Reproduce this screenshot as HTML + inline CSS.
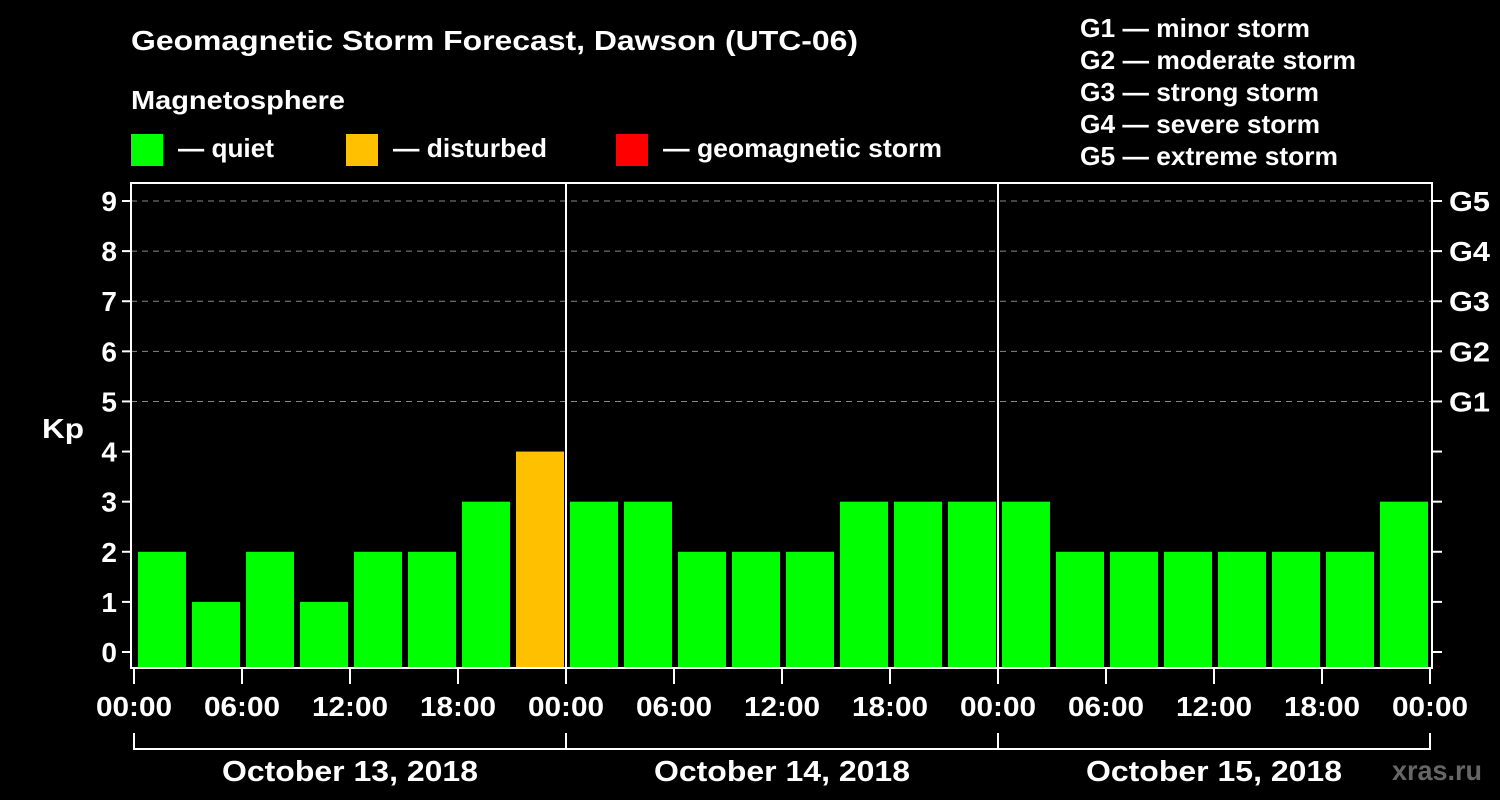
<!DOCTYPE html>
<html><head><meta charset="utf-8"><style>
html,body{margin:0;padding:0;background:#000;}
svg{display:block;font-family:"Liberation Sans",Arial,sans-serif;font-weight:bold;}
</style></head><body>
<svg id="c" width="1500" height="800">
<rect width="1500" height="800" fill="#000"/>
<text x="131" y="50" fill="#fff" font-size="28" textLength="727" lengthAdjust="spacingAndGlyphs">Geomagnetic Storm Forecast, Dawson (UTC-06)</text>
<text x="131" y="109" fill="#fff" font-size="26" textLength="214" lengthAdjust="spacingAndGlyphs">Magnetosphere</text>
<g><rect x="131" y="134" width="32" height="32" fill="#00ff00"/><text x="178" y="157" fill="#fff" font-size="26" textLength="96" lengthAdjust="spacingAndGlyphs">— quiet</text></g>
<g><rect x="346" y="134" width="32" height="32" fill="#ffc000"/><text x="393" y="157" fill="#fff" font-size="26" textLength="154" lengthAdjust="spacingAndGlyphs">— disturbed</text></g>
<g><rect x="616" y="134" width="32" height="32" fill="#ff0000"/><text x="663" y="157" fill="#fff" font-size="26" textLength="279" lengthAdjust="spacingAndGlyphs">— geomagnetic storm</text></g>
<g fill="#fff" font-size="26">
<text x="1080" y="37" textLength="230" lengthAdjust="spacingAndGlyphs">G1 — minor storm</text>
<text x="1080" y="69" textLength="276" lengthAdjust="spacingAndGlyphs">G2 — moderate storm</text>
<text x="1080" y="101" textLength="239" lengthAdjust="spacingAndGlyphs">G3 — strong storm</text>
<text x="1080" y="133" textLength="240" lengthAdjust="spacingAndGlyphs">G4 — severe storm</text>
<text x="1080" y="165" textLength="258" lengthAdjust="spacingAndGlyphs">G5 — extreme storm</text>
</g>
<text x="42" y="438" fill="#fff" font-size="28" textLength="42" lengthAdjust="spacingAndGlyphs">Kp</text>
<g id="grid"></g><g id="bars"></g><g id="axes"></g>
<text x="1392" y="780" fill="#666" font-size="28" textLength="90" lengthAdjust="spacingAndGlyphs">xras.ru</text>
</svg>
<script>
const values=[2,1,2,1,2,2,3,4,3,3,2,2,2,3,3,3,3,2,2,2,2,2,2,3];
const yTicks=[0,1,2,3,4,5,6,7,8,9];
const gLabels=["G1","G2","G3","G4","G5"];
const xLabels=["00:00","06:00","12:00","18:00","00:00","06:00","12:00","18:00","00:00","06:00","12:00","18:00","00:00"];
const days=["October 13, 2018","October 14, 2018","October 15, 2018"];
const NS="http://www.w3.org/2000/svg";
const X0=134,SLOT=54;
const xs=i=>X0+i*SLOT;
const ys=v=>652-v*50.11;
function mk(t,a,p){const e=document.createElementNS(NS,t);for(const k in a)e.setAttribute(k,a[k]);p.appendChild(e);return e;}
const grid=document.getElementById('grid'),bars=document.getElementById('bars'),axes=document.getElementById('axes');
yTicks.forEach(v=>{
 if(v>=5){const l=mk('line',{x1:131,x2:1432,y1:ys(v),y2:ys(v),stroke:'#888','stroke-dasharray':'6,5','stroke-width':1},grid);
 
 }
 mk('line',{x1:122,x2:131,y1:ys(v),y2:ys(v),stroke:'#fff','stroke-width':2},axes);
 mk('line',{x1:1432,x2:1442,y1:ys(v),y2:ys(v),stroke:'#fff','stroke-width':2},axes);
 const t=mk('text',{x:117,y:ys(v)+10,fill:'#fff','font-size':28,'text-anchor':'end'},axes);t.textContent=v;
 
 
});
gLabels.forEach((g,i)=>{const t=mk('text',{x:1449,y:ys(5+i)+10,fill:'#fff','font-size':28,textLength:41,lengthAdjust:'spacingAndGlyphs'},axes);t.textContent=g;
 
 });
values.forEach((v,i)=>{
 const col=v>=5?'#ff0000':v>=4?'#ffc000':'#00ff00';
 const r=mk('rect',{x:xs(i)+4,y:ys(v),width:SLOT-6,height:667-ys(v),fill:col},bars);
 
 
});
mk('rect',{x:131,y:183,width:1301,height:485,fill:'none',stroke:'#fff','stroke-width':2},axes);
[8,16].forEach(i=>mk('line',{x1:xs(i),x2:xs(i),y1:183,y2:668,stroke:'#fff','stroke-width':2},axes));
xLabels.forEach((s,i)=>{const x=xs(i*2);
 mk('line',{x1:x,x2:x,y1:668,y2:684,stroke:'#fff','stroke-width':2},axes);
 const t=mk('text',{x:x-38,y:716,fill:'#fff','font-size':28,textLength:76,lengthAdjust:'spacingAndGlyphs'},axes);t.textContent=s;
 
 
 if(i%4==0)mk('line',{x1:x,x2:x,y1:733,y2:750,stroke:'#fff','stroke-width':2},axes);
});
mk('line',{x1:xs(0),x2:xs(24),y1:749,y2:749,stroke:'#fff','stroke-width':2},axes);
days.forEach((d,i)=>{const c=(xs(i*8)+xs(i*8+8))/2;const t=mk('text',{x:c-128,y:781,fill:'#fff','font-size':29,textLength:256,lengthAdjust:'spacingAndGlyphs'},axes);t.textContent=d;
 
 });
</script>
</body></html>
